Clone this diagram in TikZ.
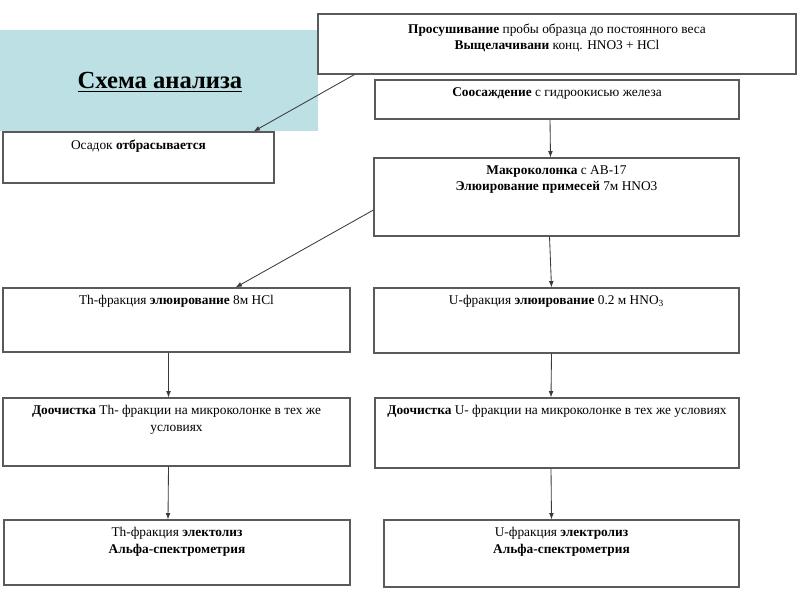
\documentclass[tikz,border=0pt]{standalone}
\usepackage{fontspec}
\setmainfont{Liberation Serif}
\usetikzlibrary{arrows.meta,calc,fit}
\definecolor{cBanner}{HTML}{BCE0E3}
\definecolor{cEdge}{HTML}{5A5A5A}
\definecolor{cArrow}{HTML}{3A3A3A}
\tikzset{
  stage/.style={draw=cEdge, line width=0.8pt, fill=white, inner sep=0pt},
  txt/.style={font=\fontsize{9.5}{11.6}\selectfont, align=center, inner sep=2pt, anchor=north, yshift=-3.5pt},
  flow/.style={-{Latex[length=1.6mm,width=1.2mm]}, line width=0.6pt, draw=cArrow},
}
\begin{document}
\begin{tikzpicture}[x=0.025cm, y=-0.025cm]
  \useasboundingbox (0,0) rectangle (800,600);
  % banner with the title
  \node[fill=cBanner, inner sep=0pt, fit={(0,30) (318,131)}] (banner) {};
  \node[font=\bfseries\fontsize{17.5}{21}\selectfont] (title) at (160,82) {\underline{Схема анализа}};

  % upper branch
  \node[stage, fit={(318,14) (796,74)},
        label={[txt, yshift=-1.5pt]north:{\textbf{Просушивание} пробы образца до постоянного веса\\
                            \textbf{Выщелачивани} конц. HNO3 + HCl}}] (dry) {};
  \node[stage, fit={(3,132) (274,183)},
        label={[txt]north:{Осадок \textbf{отбрасывается}}}] (discard) {};
  \node[stage, fit={(375,80) (739,119)},
        label={[txt]north:{\textbf{Соосаждение} с гидроокисью железа}}] (copr) {};
  \node[stage, fit={(374,158) (739,236)},
        label={[txt]north:{\textbf{Макроколонка} с АВ-17\\
                            \textbf{Элюирование примесей} 7м HNO3}}] (macro) {};

  % Th column
  \node[stage, fit={(3,288) (350,352)},
        label={[txt]north:{Th-фракция \textbf{элюирование} 8м HCl}}] (thel) {};
  \node[stage, fit={(3,398) (350,466)},
        label={[txt]north:{\textbf{Доочистка} Th- фракции на микроколонке в тех же\\ условиях}}] (thpur) {};
  \node[stage, fit={(4,520) (350,585)},
        label={[txt]north:{Th-фракция \textbf{электолиз}\\ \textbf{Альфа-спектрометрия}}}] (thmeas) {};

  % U column
  \node[stage, fit={(374,288) (739,353)},
        label={[txt]north:{U-фракция \textbf{элюирование} 0.2 м HNO\textsubscript{3}}}] (uel) {};
  \node[stage, fit={(375,398) (739,468)},
        label={[txt]north:{\textbf{Доочистка} U- фракции на микроколонке в тех же условиях}}] (upur) {};
  \node[stage, fit={(384,520) (739,587)},
        label={[txt]north:{U-фракция \textbf{электролиз}\\ \textbf{Альфа-спектрометрия}}}] (umeas) {};

  % connectors
  \draw[flow] ($(dry.south west)+(37,0)$) -- ($(discard.north east)+(-21,0)$);
  \draw[flow] ($(copr.south)+(-7,0)$) -- ($(macro.north)+(-6,0)$);
  \draw[flow] ($(macro.west)+(0,13)$) -- ($(thel.north east)+(-115,0)$);
  \draw[flow] ($(macro.south)+(-7,0)$) -- ($(uel.north)+(-5,0)$);
  \draw[flow] ($(thel.south)+(-8,0)$) -- ($(thpur.north)+(-8,0)$);
  \draw[flow] ($(uel.south)+(-5,0)$) -- ($(upur.north)+(-6,0)$);
  \draw[flow] ($(thpur.south)+(-8,0)$) -- ($(thmeas.north)+(-9,0)$);
  \draw[flow] ($(upur.south)+(-6,0)$) -- ($(umeas.north)+(-10,0)$);
\end{tikzpicture}
\end{document}
